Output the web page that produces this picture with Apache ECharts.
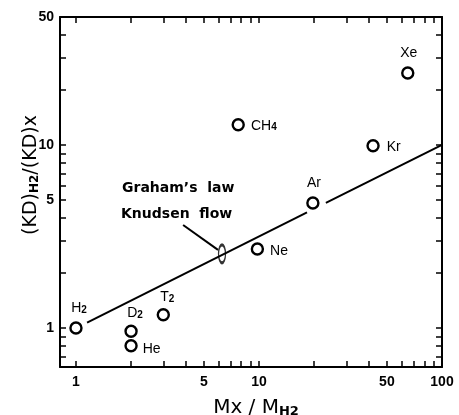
<!DOCTYPE html>
<html>
<head>
<meta charset="utf-8">
<script src="https://cdn.jsdelivr.net/npm/echarts@6/dist/echarts.min.js"></script>
<style>
  html, body { margin: 0; padding: 0; background: #fff; }
  #chart { width: 459px; height: 415px; }
</style>
</head>
<body>
<div id="chart"></div>
<script>
const gases = ['H2', 'D2', 'He', 'T2', 'Ne', 'CH4', 'Ar', 'Kr', 'Xe'];
const massRatio = [1, 2, 2, 3, 9.8, 7.7, 19.7, 42, 65];
const kdRatio = [1, 0.96, 0.80, 1.18, 2.7, 12.9, 4.82, 9.9, 24.7];

// Graham's law line, broken around the Ar marker
const lawX1 = [1.15, 18.3];
const lawY1 = [1.07, 4.28];
const lawX2 = [23.2, 100];
const lawY2 = [4.82, 10];

// pointer to the ellipse and the ellipse itself
const pointerX = [3.85, 5.97];
const pointerY = [3.65, 2.67];
const ellipseX = [6.28];
const ellipseY = [2.54];

const xTicks = [1, 2, 3, 4, 5, 6, 7, 8, 9, 10, 20, 30, 40, 50, 60, 70, 80, 90, 100];
const xLabels = [1, 5, 10, 50, 100];
const yTicks = [0.7, 0.8, 0.9, 1, 2, 3, 4, 5, 6, 7, 8, 9, 10, 20, 30, 40, 50];
const yLabels = [1, 5, 10, 50];

const xMin = 0.818, xMax = 100;
const yMin = 0.612, yMax = 50;

// where each gas name sits relative to its marker
const labelPlace = {
    H2: { position: 'top', distance: 6, offset: [3, 0] },
    D2: { position: 'top', distance: 4, offset: [4, 0] },
    T2: { position: 'top', distance: 4, offset: [4, 0] },
    He: { position: 'right', distance: 5, offset: [0, 2] },
    Ne: { position: 'right', distance: 6, offset: [0, 1] },
    CH4: { position: 'right', distance: 6, offset: [0, 0] },
    Ar: { position: 'top', distance: 6, offset: [1, 0] },
    Kr: { position: 'right', distance: 7, offset: [0, 0] },
    Xe: { position: 'top', distance: 6, offset: [1, 0] }
};

const lg = v => Math.log10(v);
const pairs = (xs, ys) => xs.map((x, i) => [lg(x), lg(ys[i])]);
const subscriptName = name => name.replace(/([A-Za-z]+)(\d*)/g, (m, a, d) => '{n|' + a + '}' + (d ? '{s|' + d + '}' : ''));

const tickFont = { fontFamily: 'Liberation Sans', fontWeight: 'bold', fontSize: 14, color: '#000' };
const richName = {
    n: { fontFamily: 'Liberation Sans', fontSize: 14, color: '#000', verticalAlign: 'bottom', lineHeight: 16 },
    s: { fontFamily: 'Liberation Sans', fontWeight: 'bold', fontSize: 10, color: '#000', verticalAlign: 'bottom', lineHeight: 16 }
};

const fmt = v => String(Math.round(Math.pow(10, v)));

const chart = echarts.init(document.getElementById('chart'));

const baseAxis = {
    type: 'value',
    splitLine: { show: false },
    axisLine: { show: true, onZero: false, lineStyle: { color: '#000', width: 2 } },
    axisTick: { inside: true, length: 6, lineStyle: { color: '#000', width: 1.5 } }
};

chart.setOption({
    animation: false,
    backgroundColor: '#fff',
    grid: { left: 60, top: 17, right: 17, bottom: 48 },
    xAxis: [
        Object.assign({}, baseAxis, {
            position: 'bottom',
            min: lg(xMin), max: lg(xMax),
            axisTick: Object.assign({}, baseAxis.axisTick, { customValues: xTicks.map(lg) }),
            axisLabel: Object.assign({}, tickFont, { margin: 8, customValues: xLabels.map(lg), formatter: fmt })
        }),
        Object.assign({}, baseAxis, {
            position: 'top',
            min: lg(xMin), max: lg(xMax),
            axisTick: Object.assign({}, baseAxis.axisTick, { customValues: xTicks.map(lg) }),
            axisLabel: { show: false }
        })
    ],
    yAxis: [
        Object.assign({}, baseAxis, {
            position: 'left',
            min: lg(yMin), max: lg(yMax),
            axisTick: Object.assign({}, baseAxis.axisTick, { customValues: yTicks.map(lg) }),
            axisLabel: Object.assign({}, tickFont, { margin: 6, customValues: yLabels.map(lg), formatter: fmt })
        }),
        Object.assign({}, baseAxis, {
            position: 'right',
            min: lg(yMin), max: lg(yMax),
            axisTick: Object.assign({}, baseAxis.axisTick, { customValues: yTicks.map(lg) }),
            axisLabel: { show: false }
        })
    ],
    series: [
        {
            type: 'line', data: pairs(lawX1, lawY1), symbol: 'none',
            lineStyle: { color: '#000', width: 2 }, silent: true
        },
        {
            type: 'line', data: pairs(lawX2, lawY2), symbol: 'none',
            lineStyle: { color: '#000', width: 2 }, silent: true
        },
        {
            type: 'line', data: pairs(pointerX, pointerY), symbol: 'none',
            lineStyle: { color: '#000', width: 2 }, silent: true
        },
        {
            type: 'scatter', data: pairs(ellipseX, ellipseY), symbol: 'circle', symbolSize: [7, 18],
            itemStyle: { color: 'rgba(0,0,0,0)', borderColor: '#000', borderWidth: 2 }, z: 3
        },
        {
            type: 'scatter',
            symbol: 'circle',
            symbolSize: 11,
            itemStyle: { color: '#fff', borderColor: '#000', borderWidth: 2.4, opacity: 1 },
            z: 4,
            data: gases.map((g, i) => ({
                value: [lg(massRatio[i]), lg(kdRatio[i])],
                name: g,
                label: Object.assign({
                    show: true,
                    formatter: subscriptName(g),
                    rich: richName
                }, labelPlace[g])
            }))
        }
    ],
    graphic: [
        {
            type: 'text', left: 122, top: 181,
            style: { text: 'Graham\u2019s  law', font: 'bold 14px "DejaVu Sans"', fill: '#000' }
        },
        {
            type: 'text', left: 121, top: 207,
            style: { text: 'Knudsen  flow', font: 'bold 14px "DejaVu Sans"', fill: '#000' }
        },
        {
            type: 'text', x: 30, y: 175, rotation: Math.PI / 2,
            style: {
                text: '{b|(KD)}{s|H2}{b|/(KD)x}',
                align: 'center', verticalAlign: 'middle',
                rich: {
                    b: { fontFamily: 'DejaVu Sans', fontSize: 19, fill: '#000', verticalAlign: 'bottom', lineHeight: 22 },
                    s: { fontFamily: 'DejaVu Sans', fontWeight: 'bold', fontSize: 12, fill: '#000', verticalAlign: 'bottom', lineHeight: 21 }
                }
            }
        },
        {
            type: 'text', x: 256, y: 406,
            style: {
                text: '{b|Mx / M}{s|H2}',
                align: 'center', verticalAlign: 'middle',
                rich: {
                    b: { fontFamily: 'DejaVu Sans', fontSize: 20, fill: '#000', verticalAlign: 'bottom', lineHeight: 24 },
                    s: { fontFamily: 'DejaVu Sans', fontWeight: 'bold', fontSize: 13, fill: '#000', verticalAlign: 'bottom', lineHeight: 22 }
                }
            }
        }
    ]
});

window.addEventListener('resize', () => chart.resize());
</script>
</body>
</html>
